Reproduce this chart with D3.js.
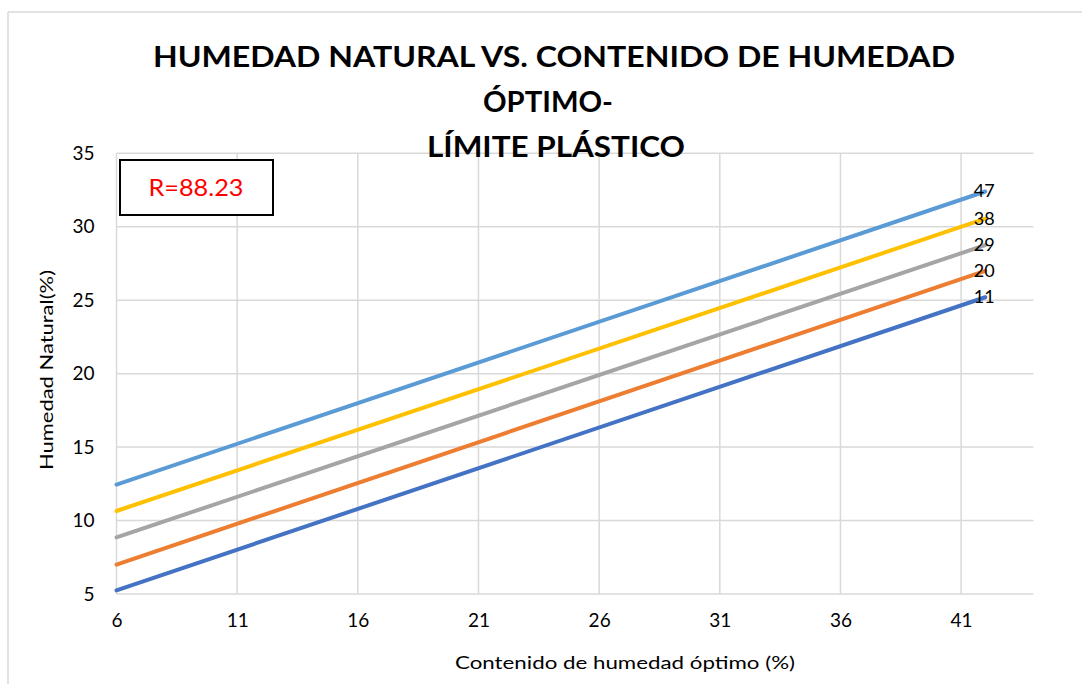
<!DOCTYPE html>
<html>
<head>
<meta charset="utf-8">
<script src="https://cdn.jsdelivr.net/npm/d3@7"></script>
<style>
  html, body { margin: 0; padding: 0; background: #fff; }
  svg { display: block; }
  text { font-family: Lato, "Open Sans", sans-serif; }
</style>
</head>
<body>
<svg id="chart" width="1082" height="684"></svg>
<script>
// Límite plástico of each line (also used as its end label)
const seriesLabels = ["11", "20", "29", "38", "47"];
const seriesColors = ["#4472C4", "#ED7D31", "#A5A5A5", "#FFC000", "#5B9BD5"];
// Contenido de humedad óptimo (%) at both ends of every line
const xValues = [6, 42];
// Humedad natural (%) at those two points, one pair per line
const lp11 = [5.25, 25.2];
const lp20 = [7.0, 27.0];
const lp29 = [8.85, 28.75];
const lp38 = [10.65, 30.55];
const lp47 = [12.45, 32.4];
const seriesValues = [lp11, lp20, lp29, lp38, lp47];
const xTicks = [6, 11, 16, 21, 26, 31, 36, 41];
const yTicks = [5, 10, 15, 20, 25, 30, 35];
const titleLines = ["HUMEDAD NATURAL VS. CONTENIDO DE HUMEDAD", "ÓPTIMO-", "LÍMITE PLÁSTICO"];
const rLabel = "R=88.23";

const svg = d3.select("#chart");
const W = 1082, H = 684;

// outer chart frame (only top and left edges are in view)
svg.append("line").attr("x1", 8).attr("x2", W).attr("y1", 12).attr("y2", 12)
  .attr("stroke", "#d9d9d9").attr("stroke-width", 1.5);
svg.append("line").attr("x1", 8).attr("x2", 8).attr("y1", 12).attr("y2", H)
  .attr("stroke", "#d9d9d9").attr("stroke-width", 1.5);

const x = d3.scaleLinear().domain([6, 44]).range([116.5, 1033.5]);
const y = d3.scaleLinear().domain([5, 35]).range([594, 153.3]);

const grid = svg.append("g");
// horizontal gridlines
grid.selectAll("line.h").data(yTicks).join("line")
  .attr("class", "h")
  .attr("x1", x(6)).attr("x2", x(44))
  .attr("y1", d => y(d)).attr("y2", d => y(d))
  .attr("stroke", "#d9d9d9").attr("stroke-width", 1.5);
// vertical gridlines
grid.selectAll("line.v").data(xTicks).join("line")
  .attr("class", "v")
  .attr("x1", d => x(d)).attr("x2", d => x(d))
  .attr("y1", y(35)).attr("y2", y(5))
  .attr("stroke", "#d9d9d9").attr("stroke-width", 1.5);

// axes (labels only)
const yAxis = svg.append("g")
  .attr("transform", `translate(${x(6)},0)`)
  .call(d3.axisLeft(y).tickValues(yTicks).tickSize(0).tickPadding(22));
const xAxis = svg.append("g")
  .attr("transform", `translate(0,${y(5)})`)
  .call(d3.axisBottom(x).tickValues(xTicks).tickSize(0).tickPadding(20));
[yAxis, xAxis].forEach(a => {
  a.select(".domain").remove();
  a.selectAll("text").attr("font-size", 19).attr("fill", "#000")
    .attr("font-family", "Lato, sans-serif");
});

// the lines
const line = d3.line().x((d, i) => x(xValues[i])).y(d => y(d));
svg.append("g").selectAll("path").data(seriesValues).join("path")
  .attr("d", d => line(d))
  .attr("fill", "none")
  .attr("stroke", (d, i) => seriesColors[i])
  .attr("stroke-width", 4)
  .attr("stroke-linecap", "round");

// end labels
svg.append("g").selectAll("text").data(seriesValues).join("text")
  .attr("x", x(xValues[1]) - 1)
  .attr("y", d => y(d[1]) + 6)
  .attr("text-anchor", "middle")
  .attr("font-size", 18)
  .attr("fill", "#000")
  .text((d, i) => seriesLabels[i]);

// title
const titleY = [67, 112, 157];
const titleX = [554, 548, 556];
const titleW = [802, 130, 258];
svg.append("g").selectAll("text").data(titleLines).join("text")
  .attr("x", (d, i) => titleX[i])
  .attr("y", (d, i) => titleY[i])
  .attr("text-anchor", "middle")
  .attr("font-size", 29)
  .attr("font-weight", "bold")
  .attr("fill", "#000")
  .attr("textLength", (d, i) => titleW[i])
  .attr("lengthAdjust", "spacingAndGlyphs")
  .text(d => d);

// R box
svg.append("rect").attr("x", 120).attr("y", 160).attr("width", 153).attr("height", 55)
  .attr("fill", "#fff").attr("stroke", "#000").attr("stroke-width", 2);
svg.append("text").attr("x", 196).attr("y", 196)
  .attr("text-anchor", "middle").attr("font-size", 24).attr("fill", "#FF0000")
  .attr("textLength", 95).attr("lengthAdjust", "spacingAndGlyphs")
  .text(rLabel);

// axis titles
svg.append("text").attr("x", 625).attr("y", 669)
  .attr("text-anchor", "middle").attr("font-size", 18).attr("fill", "#000")
  .attr("textLength", 340).attr("lengthAdjust", "spacingAndGlyphs")
  .text("Contenido de humedad óptimo (%)");
svg.append("text")
  .attr("transform", "translate(53,370) rotate(-90)")
  .attr("text-anchor", "middle").attr("font-size", 18).attr("fill", "#000")
  .attr("textLength", 200).attr("lengthAdjust", "spacingAndGlyphs")
  .text("Humedad Natural(%)");
</script>
</body>
</html>
